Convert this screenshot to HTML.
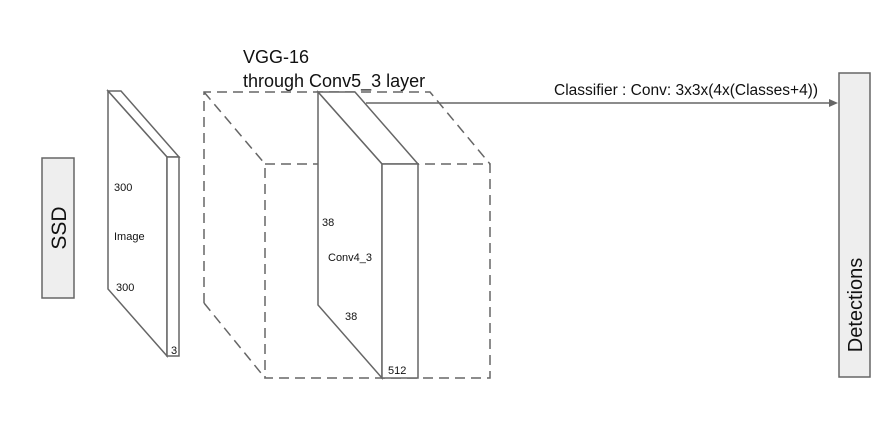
<!DOCTYPE html>
<html><head><style>body{margin:0;background:#fff}</style></head><body>
<svg width="875" height="427" xmlns="http://www.w3.org/2000/svg" font-family="Liberation Sans, sans-serif">
<rect width="875" height="427" fill="#fff"/>
<rect x="42" y="158" width="32" height="140" fill="#eeeeee" stroke="#666" stroke-width="1.5"/>
<text transform="translate(66,228) rotate(-90)" text-anchor="middle" font-size="21" fill="#111">SSD</text>
<g stroke="#666" stroke-width="1.5" fill="#fff">
<polygon points="108,91 121,91 179,157 167,157"/>
<polygon points="108,91 167,157 167,356 108,289"/>
<rect x="167" y="157" width="12" height="199"/>
</g>
<g font-size="11" fill="#111">
<text x="114" y="191">300</text><text x="114" y="240">Image</text><text x="116" y="291">300</text><text x="171" y="354">3</text>
</g>
<g stroke="#666" stroke-width="1.5" fill="none" stroke-dasharray="10,6">
<polyline points="204,303 204,92 430,92 490,164"/>
<line x1="204" y1="92" x2="265" y2="164"/>
<line x1="204" y1="303" x2="265" y2="378"/>
<rect x="265" y="164" width="225" height="214"/>
</g>
<g stroke="#666" stroke-width="1.5" fill="#fff">
<polygon points="318,92 355,92 418,164 382,164"/>
<polygon points="318,92 382,164 382,378 318,305"/>
<rect x="382" y="164" width="36" height="214"/>
</g>
<g font-size="11" fill="#111">
<text x="322" y="226">38</text><text x="328" y="261">Conv4_3</text><text x="345" y="320">38</text><text x="388" y="374">512</text>
</g>
<text x="243" y="63" font-size="18" fill="#111">VGG-16</text>
<text x="243" y="87" font-size="18" fill="#111">through Conv5_3 layer</text>
<polyline points="366,103 832,103" stroke="#666" stroke-width="1.5" fill="none"/>
<polygon points="838,103 829,99 829,107" fill="#666"/>
<text x="554" y="95" font-size="15.5" fill="#111">Classifier : Conv:  3x3x(4x(Classes+4))</text>
<rect x="839" y="73" width="31" height="304" fill="#eeeeee" stroke="#666" stroke-width="1.5"/>
<text transform="translate(862,305) rotate(-90)" text-anchor="middle" font-size="20" fill="#111">Detections</text>
</svg>
</body></html>
